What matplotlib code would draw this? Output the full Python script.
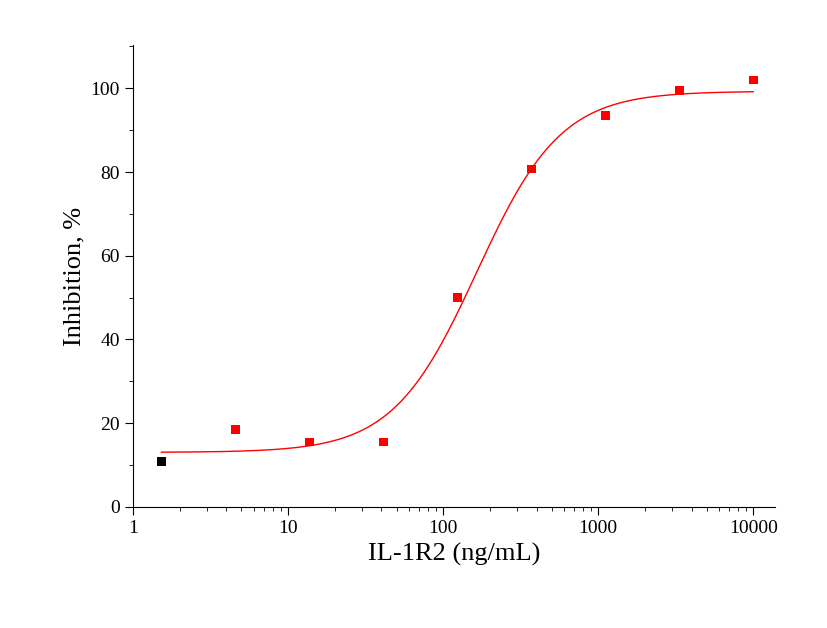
import numpy as np
import matplotlib
matplotlib.use("Agg")
import matplotlib.pyplot as plt
from matplotlib.ticker import LogLocator, FixedLocator, NullFormatter

conc = [1.52, 4.57, 13.7, 41.2, 123.5, 370, 1111, 3333, 10000]
inhib = [10.8, 18.5, 15.5, 15.5, 50.0, 80.7, 93.5, 99.5, 102.0]
colors = ["black"] + ["red"] * 8
# fitted 4PL parameters
bottom_p, top_p, ec50, hill = 13.0, 99.3, 165.0, 1.6

plt.rcParams["font.family"] = "Liberation Serif"
fig = plt.figure(figsize=(8.27, 6.28), dpi=100)
ax = fig.add_axes([0.161, 0.193, 0.776, 0.735])

xc = np.logspace(np.log10(1.52), np.log10(10000), 400)
yc = bottom_p + (top_p - bottom_p) / (1 + (ec50 / xc) ** hill)
ax.plot(xc, yc, color="red", lw=1)
ax.scatter(conc, inhib, c=colors, marker="s", s=40, zorder=3, linewidths=0)

ax.set_xscale("log")
ax.set_xlim(1, 13800)
ax.set_ylim(0, 110.3)
ax.set_xticks([1, 10, 100, 1000, 10000])
ax.set_xticklabels(["1", "10", "100", "1000", "10000"])
ax.xaxis.set_minor_locator(LogLocator(base=10, subs=np.arange(2, 10)))
ax.xaxis.set_minor_formatter(NullFormatter())
ax.set_yticks([0, 20, 40, 60, 80, 100])
ax.yaxis.set_minor_locator(FixedLocator(np.arange(10, 111, 20)))
for s in ["top", "right"]:
    ax.spines[s].set_visible(False)
ax.tick_params(which="major", direction="out", length=6, labelsize=14)
ax.tick_params(which="minor", direction="out", length=3)
ax.set_xlabel("IL-1R2 (ng/mL)", fontsize=19)
ax.set_ylabel("Inhibition, %", fontsize=19)
fig.savefig("out.png", dpi=100)
